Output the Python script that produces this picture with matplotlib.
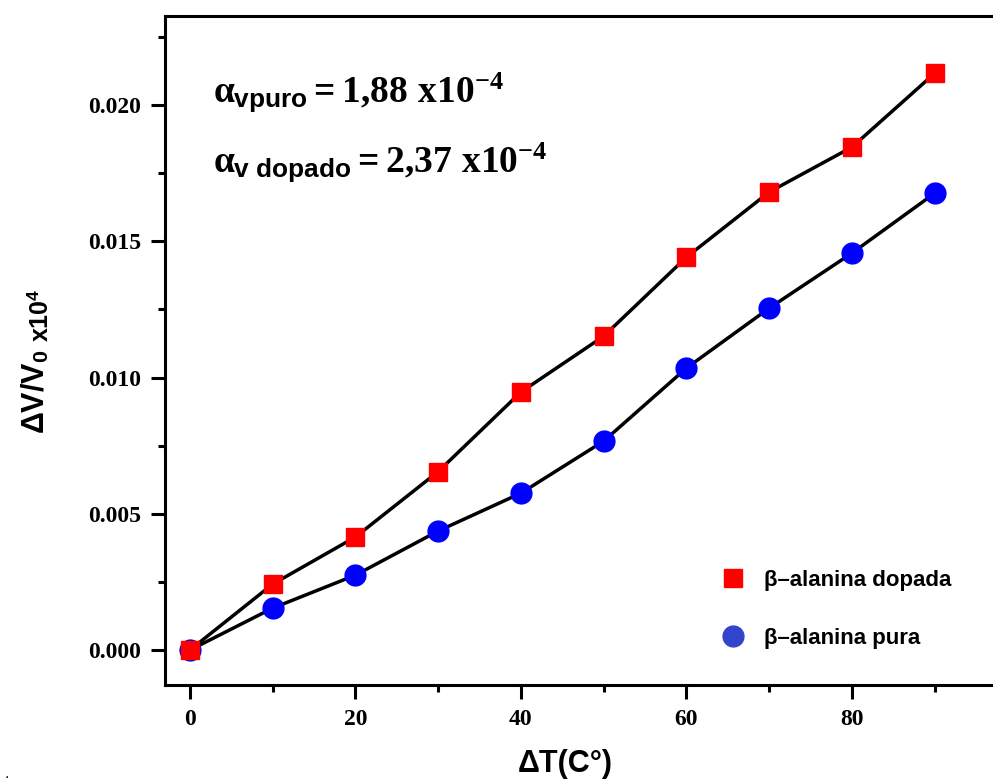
import matplotlib
matplotlib.use("Agg")
import matplotlib.pyplot as plt
from matplotlib.lines import Line2D
from matplotlib.ticker import MultipleLocator

plt.rcParams["mathtext.fontset"] = "custom"
plt.rcParams["mathtext.rm"] = "Liberation Serif:bold"
plt.rcParams["mathtext.it"] = "Liberation Serif:bold"
plt.rcParams["mathtext.bf"] = "Liberation Serif:bold"
plt.rcParams["mathtext.sf"] = "Liberation Sans:bold"

# Temperature step (°C) and relative volume change for both samples
delta_t = [0, 10, 20, 30, 40, 50, 60, 70, 80, 90]
dv_dopada = [0.0000, 0.00242, 0.00415, 0.00655, 0.00947, 0.01152, 0.01442, 0.01681, 0.01846, 0.02117]
dv_pura = [0.0000, 0.00154, 0.00275, 0.00437, 0.00576, 0.00767, 0.01035, 0.01255, 0.01457, 0.01677]

label_dopada = "β–alanina dopada"
label_pura = "β–alanina pura"
alpha_puro = r"$\alpha_{\mathsf{vpuro}} = 1{,}88\ \mathrm{x10}^{-4}$"
alpha_dopado = r"$\alpha_{\mathsf{v\ dopado}} = 2{,}37\ \mathrm{x10}^{-4}$"

RED = "#ff0000"
BLUE = "#0000ff"

W, H = 993, 780
fig = plt.figure(figsize=(W / 100, H / 100), dpi=100)
ax = fig.add_axes([165 / W, 95 / H, 836 / W, 669 / H])

ax.plot(delta_t, dv_pura, color="black", lw=2.5, marker="o", ms=15,
        mfc=BLUE, mec=BLUE, zorder=2)
ax.plot(delta_t, dv_dopada, color="black", lw=2.5, marker="s", ms=13.5,
        mfc=RED, mec=RED, zorder=3)

ax.set_xlim(-3, 98)
ax.set_ylim(-0.00128, 0.02327)

ax.xaxis.set_major_locator(MultipleLocator(20))
ax.xaxis.set_minor_locator(MultipleLocator(10))
ax.yaxis.set_major_locator(MultipleLocator(0.005))
ax.yaxis.set_minor_locator(MultipleLocator(0.0025))
ax.yaxis.set_major_formatter(matplotlib.ticker.FormatStrFormatter("%.3f"))

for side in ("left", "bottom", "top", "right"):
    ax.spines[side].set_linewidth(2.2)
ax.tick_params(which="major", direction="out", length=10, width=2.2, pad=7)
ax.tick_params(which="minor", direction="out", length=5, width=2.2)
ax.tick_params(top=False, right=False, which="both")
for lab in ax.get_xticklabels() + ax.get_yticklabels():
    lab.set_fontfamily("Liberation Serif")
    lab.set_fontweight("bold")
    lab.set_fontsize(17)

# axis titles
fig.text(565 / W, 1 - 764 / H, "ΔT(C°)", ha="center", va="center",
         fontfamily="Liberation Sans", fontweight="bold", fontsize=22)
fig.text(36 / W, 1 - 434 / H, r"ΔV/V$_{\mathsf{0}}$", rotation=90,
         ha="center", va="bottom", fontfamily="Liberation Sans",
         fontweight="bold", fontsize=22)
fig.text(41 / W, 1 - 342 / H, r"x10$^{\mathsf{4}}$", rotation=90,
         ha="center", va="bottom", fontfamily="Liberation Sans",
         fontweight="bold", fontsize=18)

# expansion coefficients
ax.text(213 / W, 1 - 92 / H, alpha_puro, transform=fig.transFigure,
        ha="left", va="center", fontsize=27)
ax.text(213 / W, 1 - 162 / H, alpha_dopado, transform=fig.transFigure,
        ha="left", va="center", fontsize=27)

handles = [
    Line2D([], [], ls="none", marker="s", ms=13.5, mfc=RED, mec=RED),
    Line2D([], [], ls="none", marker="o", ms=15, mfc="#3344cc", mec="#3344cc"),
]
leg = ax.legend(handles, [label_dopada, label_pura], loc="upper left",
                bbox_to_anchor=(722 / W, 1 - 570 / H),
                bbox_transform=fig.transFigure, frameon=False,
                handlelength=1.0, handletextpad=0.9, labelspacing=1.65,
                borderpad=0, borderaxespad=0,
                prop={"family": "Liberation Sans", "weight": "bold", "size": 16})

fig.text(7 / W, 1 - 774 / H, ".", fontsize=10, ha="center", va="center")

fig.savefig("out.png", dpi=100)
